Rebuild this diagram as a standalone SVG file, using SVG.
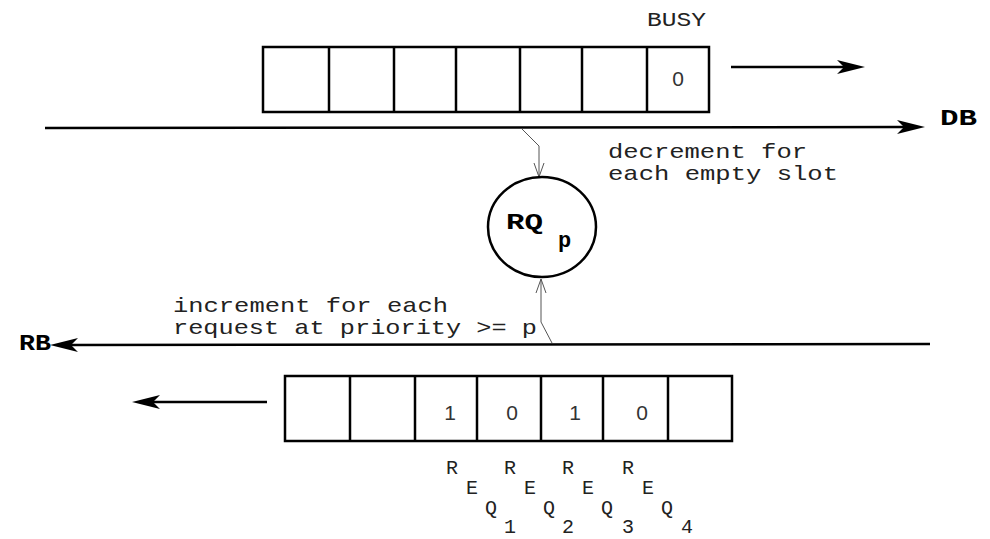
<svg xmlns="http://www.w3.org/2000/svg" width="990" height="539" viewBox="0 0 990 539">
<style>
.ln{stroke:#000;stroke-width:2.5;fill:none}
.cell{stroke:#000;stroke-width:2.5;fill:#fff}
.thin{stroke:#555;stroke-width:1;fill:none}
.ah{fill:#000;stroke:none}
.t{font-family:"Liberation Mono","DejaVu Sans Mono",monospace;font-size:21px;fill:#222}
.b{font-family:"Liberation Mono","DejaVu Sans Mono",monospace;font-size:22px;font-weight:bold;fill:#000}
.s{font-family:"Liberation Mono","DejaVu Sans Mono",monospace;font-size:20px;fill:#222;text-anchor:middle}
.d{font-family:"Liberation Sans",Arial,sans-serif;font-size:21px;fill:#333;text-anchor:middle}
</style>
<rect width="990" height="539" fill="#fff"/>
<g id="connectors">
<line class="ln" x1="45" y1="128" x2="905" y2="127"/>
<path class="ah" d="M925,127 L897,120 L904,127 L897,134 Z"/>
<line class="ln" x1="731" y1="67" x2="845" y2="67"/>
<path class="ah" d="M865,67 L837,60 L844,67 L837,74 Z"/>
<line class="ln" x1="930" y1="344" x2="70" y2="345"/>
<path class="ah" d="M50,345 L78,338 L71,345 L78,352 Z"/>
<line class="ln" x1="267" y1="402" x2="150" y2="402"/>
<path class="ah" d="M132,402 L160,395 L153,402 L160,409 Z"/>
<path class="thin" d="M522,129 L539,146 L539,177"/>
<path class="thin" d="M534,163 L539,177 L544,163"/>
<path class="thin" d="M552,343 L541,322 L541,279"/>
<path class="thin" d="M536,293 L541,279 L546,293"/>
</g>
<g id="busy-register">
<rect class="cell" x="263" y="47" width="446" height="65"/>
<line class="ln" x1="329" y1="47" x2="329" y2="112"/>
<line class="ln" x1="394" y1="47" x2="394" y2="112"/>
<line class="ln" x1="456" y1="47" x2="456" y2="112"/>
<line class="ln" x1="520" y1="47" x2="520" y2="112"/>
<line class="ln" x1="582" y1="47" x2="582" y2="112"/>
<line class="ln" x1="647" y1="47" x2="647" y2="112"/>
<text class="d" x="678" y="86">0</text>
<text class="t" x="647" y="26" textLength="59" lengthAdjust="spacingAndGlyphs">BUSY</text>
</g>
<g id="request-register">
<rect class="cell" x="285" y="376" width="447" height="65"/>
<line class="ln" x1="350" y1="376" x2="350" y2="441"/>
<line class="ln" x1="415" y1="376" x2="415" y2="441"/>
<line class="ln" x1="477" y1="376" x2="477" y2="441"/>
<line class="ln" x1="541" y1="376" x2="541" y2="441"/>
<line class="ln" x1="603" y1="376" x2="603" y2="441"/>
<line class="ln" x1="668" y1="376" x2="668" y2="441"/>
<text class="d" x="450" y="420">1</text>
<text class="d" x="512" y="420">0</text>
<text class="d" x="575" y="420">1</text>
<text class="d" x="642" y="420">0</text>
</g>
<g id="rq-counter">
<ellipse cx="542" cy="227" rx="54" ry="50" stroke="#000" stroke-width="2.5" fill="#fff"/>
<text class="b" x="506" y="229" textLength="37" lengthAdjust="spacingAndGlyphs">RQ</text>
<text class="b" x="558" y="247">p</text>
</g>
<g id="labels">
<text class="b" x="940" y="125" textLength="37" lengthAdjust="spacingAndGlyphs">DB</text>
<text class="b" x="19" y="350" textLength="32" lengthAdjust="spacingAndGlyphs">RB</text>
<text class="t" x="608" y="158" textLength="199" lengthAdjust="spacingAndGlyphs">decrement for</text>
<text class="t" x="608" y="180" textLength="230" lengthAdjust="spacingAndGlyphs">each empty slot</text>
<text class="t" x="173" y="312" textLength="275" lengthAdjust="spacingAndGlyphs">increment for each</text>
<text class="t" x="173" y="334" textLength="364" lengthAdjust="spacingAndGlyphs">request at priority &gt;= p</text>
</g>
<g id="req-labels">
<text class="s" x="452" y="474">R</text><text class="s" x="472" y="494">E</text><text class="s" x="491" y="514">Q</text><text class="s" x="510" y="533">1</text>
<text class="s" x="510" y="474">R</text><text class="s" x="530" y="494">E</text><text class="s" x="549" y="514">Q</text><text class="s" x="568" y="533">2</text>
<text class="s" x="568" y="474">R</text><text class="s" x="588" y="494">E</text><text class="s" x="607" y="514">Q</text><text class="s" x="628" y="533">3</text>
<text class="s" x="628" y="474">R</text><text class="s" x="648" y="494">E</text><text class="s" x="667" y="514">Q</text><text class="s" x="687" y="533">4</text>
</g>
</svg>
